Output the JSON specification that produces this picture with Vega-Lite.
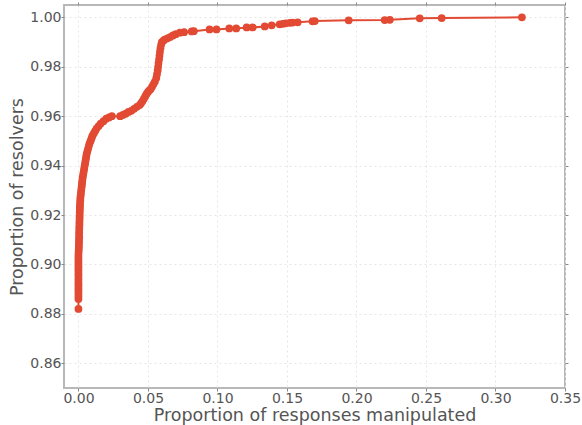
{
  "$schema": "https://vega.github.io/schema/vega-lite/v6.json",
  "width": 501,
  "height": 383,
  "autosize": {"type": "none"},
  "padding": {"left": 64, "top": 5, "right": 17, "bottom": 37},
  "background": "white",
  "config": {
    "view": {"stroke": "#b8b8b8", "strokeWidth": 2},
    "font": "DejaVu Sans",
    "axis": {
      "domain": false,
      "grid": true,
      "gridColor": "#e6e6e6",
      "gridDash": [2, 3],
      "gridWidth": 1,
      "tickColor": "#888888",
      "tickSize": 3,
      "labelFont": "DejaVu Sans",
      "labelFontSize": 14,
      "labelColor": "#555555",
      "titleFont": "DejaVu Sans",
      "titleFontSize": 17.5,
      "titleFontWeight": "normal",
      "titleColor": "#555555"
    }
  },
  "data": {
    "values": [
      {"x": 0, "y": 0.882}, {"x": 0, "y": 0.886}, {"x": 0, "y": 0.887}, {"x": 0, "y": 0.888}, {"x": 0, "y": 0.889},
      {"x": 0, "y": 0.890}, {"x": 0, "y": 0.891}, {"x": 0, "y": 0.892}, {"x": 0, "y": 0.893}, {"x": 0, "y": 0.894},
      {"x": 0, "y": 0.895}, {"x": 0, "y": 0.896}, {"x": 0, "y": 0.897}, {"x": 0, "y": 0.898}, {"x": 0, "y": 0.899},
      {"x": 0, "y": 0.900}, {"x": 0, "y": 0.901}, {"x": 0, "y": 0.902}, {"x": 0, "y": 0.903}, {"x": 0, "y": 0.904},
      {"x": 0.0001, "y": 0.905}, {"x": 0.0002, "y": 0.906}, {"x": 0.0003, "y": 0.907}, {"x": 0.0003, "y": 0.908},
      {"x": 0.0004, "y": 0.909}, {"x": 0.0004, "y": 0.910}, {"x": 0.0005, "y": 0.911}, {"x": 0.0005, "y": 0.912},
      {"x": 0.0005, "y": 0.913}, {"x": 0.0006, "y": 0.914}, {"x": 0.0006, "y": 0.915}, {"x": 0.0007, "y": 0.916},
      {"x": 0.0007, "y": 0.917}, {"x": 0.0008, "y": 0.918}, {"x": 0.0008, "y": 0.919}, {"x": 0.0009, "y": 0.920},
      {"x": 0.0009, "y": 0.921}, {"x": 0.001, "y": 0.922}, {"x": 0.001, "y": 0.923}, {"x": 0.0011, "y": 0.924},
      {"x": 0.0012, "y": 0.925}, {"x": 0.0013, "y": 0.926}, {"x": 0.0014, "y": 0.927}, {"x": 0.0016, "y": 0.928},
      {"x": 0.0018, "y": 0.929}, {"x": 0.002, "y": 0.930}, {"x": 0.0022, "y": 0.931}, {"x": 0.0024, "y": 0.932},
      {"x": 0.0026, "y": 0.933}, {"x": 0.0028, "y": 0.934}, {"x": 0.003, "y": 0.935}, {"x": 0.0033, "y": 0.936},
      {"x": 0.0036, "y": 0.937}, {"x": 0.0039, "y": 0.938}, {"x": 0.0042, "y": 0.939}, {"x": 0.0045, "y": 0.940},
      {"x": 0.0048, "y": 0.941}, {"x": 0.0051, "y": 0.942}, {"x": 0.0054, "y": 0.943}, {"x": 0.0057, "y": 0.944},
      {"x": 0.006, "y": 0.945}, {"x": 0.0065, "y": 0.946}, {"x": 0.007, "y": 0.947}, {"x": 0.0075, "y": 0.948},
      {"x": 0.008, "y": 0.949}, {"x": 0.0087, "y": 0.950}, {"x": 0.0094, "y": 0.951}, {"x": 0.010, "y": 0.952},
      {"x": 0.011, "y": 0.953}, {"x": 0.012, "y": 0.954}, {"x": 0.013, "y": 0.955}, {"x": 0.0145, "y": 0.956},
      {"x": 0.016, "y": 0.957}, {"x": 0.018, "y": 0.958}, {"x": 0.020, "y": 0.959}, {"x": 0.022, "y": 0.9595},
      {"x": 0.024, "y": 0.960},
      {"x": 0.030, "y": 0.960}, {"x": 0.032, "y": 0.9605}, {"x": 0.034, "y": 0.961}, {"x": 0.036, "y": 0.9617},
      {"x": 0.038, "y": 0.9622}, {"x": 0.040, "y": 0.963}, {"x": 0.042, "y": 0.9638}, {"x": 0.044, "y": 0.9645},
      {"x": 0.045, "y": 0.9652}, {"x": 0.046, "y": 0.966}, {"x": 0.047, "y": 0.967}, {"x": 0.048, "y": 0.968},
      {"x": 0.049, "y": 0.969}, {"x": 0.050, "y": 0.9698}, {"x": 0.051, "y": 0.9705}, {"x": 0.052, "y": 0.971},
      {"x": 0.053, "y": 0.972}, {"x": 0.054, "y": 0.973}, {"x": 0.055, "y": 0.974}, {"x": 0.056, "y": 0.9755},
      {"x": 0.0565, "y": 0.977}, {"x": 0.057, "y": 0.9785}, {"x": 0.0573, "y": 0.980}, {"x": 0.0576, "y": 0.9815},
      {"x": 0.058, "y": 0.983}, {"x": 0.0583, "y": 0.9845}, {"x": 0.0586, "y": 0.986}, {"x": 0.059, "y": 0.9875},
      {"x": 0.0595, "y": 0.989}, {"x": 0.060, "y": 0.990}, {"x": 0.061, "y": 0.9905}, {"x": 0.062, "y": 0.991},
      {"x": 0.064, "y": 0.9915}, {"x": 0.066, "y": 0.992}, {"x": 0.068, "y": 0.9927}, {"x": 0.070, "y": 0.9932},
      {"x": 0.073, "y": 0.9938}, {"x": 0.076, "y": 0.994}, {"x": 0.0815, "y": 0.9943}, {"x": 0.083, "y": 0.9944},
      {"x": 0.0943, "y": 0.9951}, {"x": 0.0993, "y": 0.9951}, {"x": 0.1085, "y": 0.9955}, {"x": 0.1135, "y": 0.9955},
      {"x": 0.1210, "y": 0.9959}, {"x": 0.1253, "y": 0.9959}, {"x": 0.1340, "y": 0.9963}, {"x": 0.1390, "y": 0.9968},
      {"x": 0.1447, "y": 0.9972}, {"x": 0.147, "y": 0.9974}, {"x": 0.149, "y": 0.9976}, {"x": 0.152, "y": 0.9978},
      {"x": 0.154, "y": 0.9979}, {"x": 0.1577, "y": 0.998}, {"x": 0.1684, "y": 0.9984}, {"x": 0.170, "y": 0.9985},
      {"x": 0.1944, "y": 0.9988}, {"x": 0.2203, "y": 0.9989}, {"x": 0.224, "y": 0.999}, {"x": 0.2455, "y": 0.9996},
      {"x": 0.2613, "y": 0.9997}, {"x": 0.319, "y": 1.0}
    ]
  },
  "encoding": {
    "x": {
      "field": "x",
      "type": "quantitative",
      "scale": {"domain": [-0.0104, 0.35], "nice": false, "zero": false}
    },
    "y": {
      "field": "y",
      "type": "quantitative",
      "scale": {"domain": [0.85, 1.005], "nice": false, "zero": false}
    }
  },
  "resolve": {"axis": {"x": "independent", "y": "independent"}},
  "layer": [
    {
      "mark": {"type": "line", "color": "#E24A33", "strokeWidth": 2},
      "encoding": {
        "x": {"field": "x", "type": "quantitative",
          "axis": {"values": [0, 0.05, 0.1, 0.15, 0.2, 0.25, 0.3, 0.35], "format": ".2f", "title": "Proportion of responses manipulated", "labelPadding": 0, "titlePadding": 1, "labelFlush": false}},
        "y": {"field": "y", "type": "quantitative",
          "axis": {"values": [0.86, 0.88, 0.9, 0.92, 0.94, 0.96, 0.98, 1.0], "format": ".2f", "title": "Proportion of resolvers", "labelPadding": 0, "titlePadding": 3}}
      }
    },
    {
      "mark": {"type": "point", "filled": true, "color": "#E24A33", "opacity": 1, "size": 60},
      "encoding": {
        "x": {"field": "x", "type": "quantitative",
          "axis": {"orient": "top", "values": [0, 0.05, 0.1, 0.15, 0.2, 0.25, 0.3, 0.35], "labels": false, "grid": false, "title": null}},
        "y": {"field": "y", "type": "quantitative",
          "axis": {"orient": "right", "values": [0.86, 0.88, 0.9, 0.92, 0.94, 0.96, 0.98, 1.0], "labels": false, "grid": false, "title": null}}
      }
    }
  ]
}
